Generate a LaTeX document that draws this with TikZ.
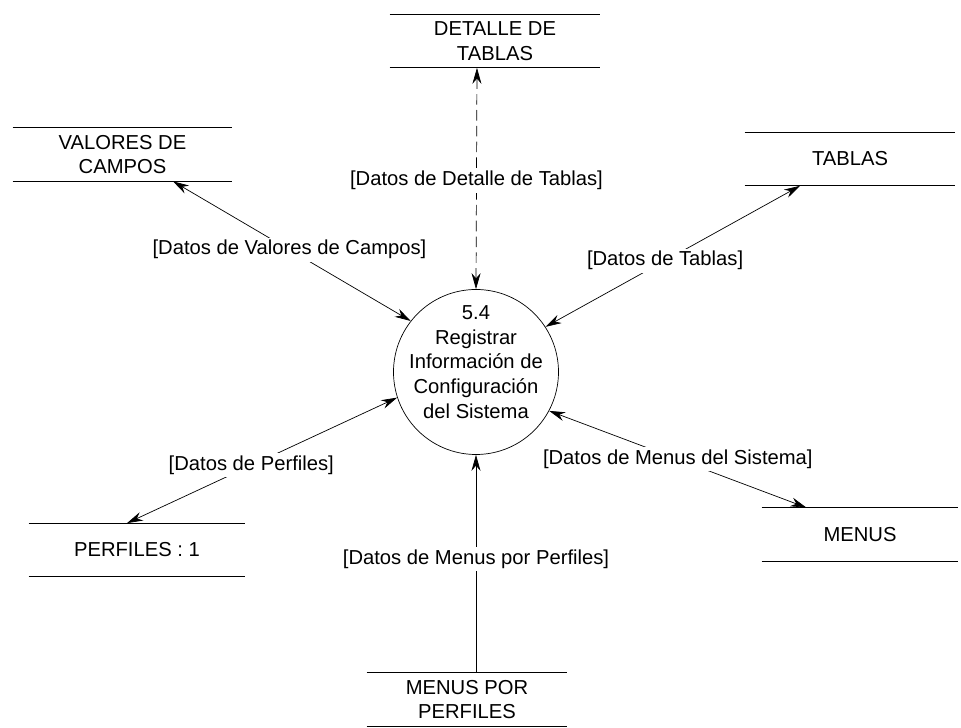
\documentclass[tikz,border=0pt]{standalone}
\usepackage{fontspec}
\setmainfont{Liberation Sans}
\usetikzlibrary{arrows.meta}
\begin{document}
\begin{tikzpicture}[store/.style={minimum height=1.06cm,inner sep=0pt,align=center},
  flow/.style={{Stealth[length=3.2mm,width=1.8mm]}-{Stealth[length=3.2mm,width=1.8mm]}},
  lbl/.style={fill=white,inner sep=1.5pt},
  font=\fontsize{11.5}{14}\selectfont]
  \useasboundingbox (-9.52,-7.12) rectangle (9.7,7.44);
  \node[circle,draw,minimum size=3.3cm,inner sep=0pt] (p) at (0,0) {};
  \node[align=center] (pt) at (0,.2) {5.4\\Registrar\\Información de\\Configuración\\del Sistema};
  \node[store,minimum width=4.2cm] (det) at (0.38,6.62) {DETALLE DE\\TABLAS};
  \node[store,minimum width=4.38cm] (val) at (-7.07,4.35) {VALORES DE\\CAMPOS};
  \node[store,minimum width=4.2cm] (tab) at (7.48,4.26) {TABLAS};
  \node[store,minimum width=4.32cm] (per) at (-6.78,-3.56) {PERFILES : 1};
  \node[store,minimum width=3.92cm] (men) at (7.68,-3.25) {MENUS};
  \node[store,minimum width=4cm] (mpp) at (-0.18,-6.55) {MENUS POR\\PERFILES};
  \foreach \s in {det,val,tab,per,men,mpp}
    \draw (\s.north west)--(\s.north east) (\s.south west)--(\s.south east);
  \draw[flow,dash pattern=on 6pt off 3pt] (p.north)--node[lbl,pos=.49] {[Datos de Detalle de Tablas]}([xshift=-.36cm]det.south);
  \draw[flow] ([xshift=1.01cm]val.south)--node[lbl,pos=.49] {[Datos de Valores de Campos]}(p.142);
  \draw[flow] (p.33)--node[lbl,pos=.47] {[Datos de Tablas]}([xshift=-1cm]tab.south);
  \draw[flow] (p.198)--node[lbl,pos=.54] {[Datos de Perfiles]}([xshift=-.2cm]per.north);
  \draw[flow] (p.-28)--node[lbl,pos=.5] {[Datos de Menus del Sistema]}([xshift=-1.07cm]men.north);
  \draw[-{Stealth[length=3.2mm,width=1.8mm]}] ([xshift=.18cm]mpp.north)--node[lbl,pos=.52] {[Datos de Menus por Perfiles]}(p.south);
\end{tikzpicture}
\end{document}
